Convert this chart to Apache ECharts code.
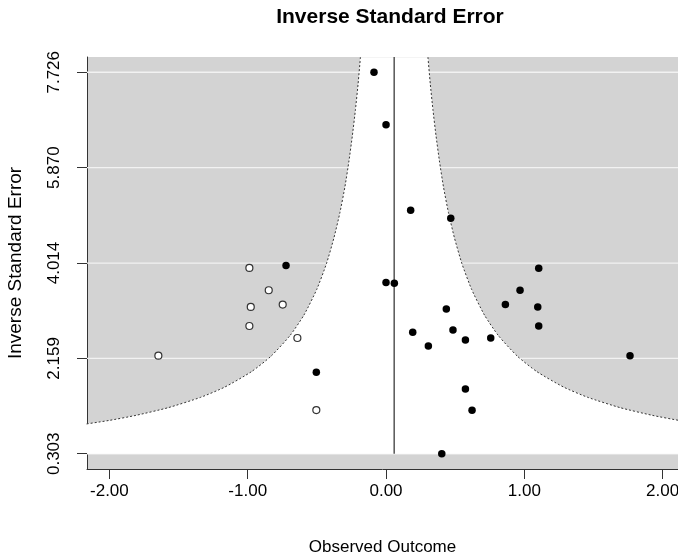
<!DOCTYPE html>
<html>

<head>
  <meta charset="utf-8">
  <title>Inverse Standard Error</title>
  <script src="https://cdn.jsdelivr.net/npm/echarts@6.0.0/dist/echarts.min.js"></script>
  <style type="text/css">
    html,
    body {
      margin: 0;
      background-color: #fff;
    }

    #main {
      width: 678px;
      height: 556px;
    }
  </style>
</head>

<body>
  <div id="main"></div>

  <script type="text/javascript">
    // axis ticks
    var xTicks = [-2, -1, 0, 1, 2];
    var yTicks = [0.303, 2.159, 4.014, 5.870, 7.726];

    // observed studies (filled dots)
    var obsX = [-0.087, 0.000, 0.178, 0.468, 1.104, 0.000, 0.060, 0.969, 0.863, 1.097, 0.436, 1.104,
      0.193, 0.484, 0.574, 0.757, 0.306, 1.764, 0.574, 0.622, 0.403, -0.723, -0.504];
    var obsY = [7.726, 6.705, 5.043, 4.887, 3.913, 3.634, 3.621, 3.484, 3.206, 3.159, 3.120, 2.789,
      2.666, 2.711, 2.516, 2.555, 2.399, 2.212, 1.562, 1.147, 0.303, 3.966, 1.887];

    // filled-in studies (open dots)
    var fillX = [-0.988, -0.848, -0.978, -0.747, -0.988, -0.641, -1.646, -0.504];
    var fillY = [3.919, 3.484, 3.159, 3.206, 2.789, 2.555, 2.212, 1.152];

    // pooled estimate (vertical line)
    var center = 0.059;

    // funnel edges
    var funnelY = [8.02, 7.5, 7.0, 6.5, 6.0, 5.5, 5.0, 4.5, 4.0, 3.5, 3.0, 2.6, 2.2, 1.9, 1.6, 1.4, 1.2, 1.05, 0.95, 0.85];
    var funnelL = [-0.185, -0.202, -0.221, -0.243, -0.268, -0.297, -0.333, -0.377, -0.431, -0.501, -0.594, -0.695,
      -0.832, -0.973, -1.166, -1.341, -1.574, -1.808, -2.004, -2.247];
    var funnelR = [0.303, 0.320, 0.339, 0.361, 0.386, 0.415, 0.451, 0.495, 0.549, 0.619, 0.712, 0.813,
      0.950, 1.091, 1.284, 1.459, 1.692, 1.926, 2.122, 2.365];

    var xMin = -2.162, xMax = 2.111;
    var yMin = 0.006, yMax = 8.023;
    var font = 'Liberation Sans, Arial, sans-serif';

    function zip(a, b) {
      var out = [];
      for (var i = 0; i < a.length; i++) out.push([a[i], b[i]]);
      return out;
    }

    var leftEdge = zip(funnelL, funnelY);
    var rightEdge = zip(funnelR, funnelY);

    var myChart = echarts.init(document.getElementById('main'), null, { renderer: 'canvas' });

    var option = {
      animation: false,
      backgroundColor: '#fff',
      textStyle: { fontFamily: font },
      title: {
        text: 'Inverse Standard Error',
        left: 385,
        top: 2,
        textAlign: 'center',
        textStyle: { fontFamily: font, fontSize: 21, fontWeight: 'bold', color: '#000' }
      },
      grid: {
        left: 87,
        right: 0,
        top: 57,
        bottom: 87,
        outerBoundsMode: 'none',
        show: true,
        backgroundColor: '#d3d3d3',
        borderWidth: 0
      },
      xAxis: {
        type: 'value',
        min: xMin,
        max: xMax,
        name: 'Observed Outcome',
        nameLocation: 'middle',
        nameGap: 70,
        nameTextStyle: { fontFamily: font, fontSize: 17, color: '#000' },
        axisLine: { show: true, onZero: false, lineStyle: { color: '#333', width: 1 } },
        axisTick: { show: true, length: 10, customValues: xTicks, lineStyle: { color: '#333' } },
        axisLabel: {
          customValues: xTicks,
          margin: 14,
          fontFamily: font,
          fontSize: 17,
          color: '#000',
          formatter: function (v) { return v.toFixed(2); }
        },
        splitLine: { show: false }
      },
      yAxis: {
        type: 'value',
        min: yMin,
        max: yMax,
        name: 'Inverse Standard Error',
        nameLocation: 'middle',
        nameGap: 62,
        nameTextStyle: { fontFamily: font, fontSize: 19, color: '#000' },
        axisLine: { show: true, onZero: false, lineStyle: { color: '#333', width: 1 } },
        axisTick: { show: true, length: 10, customValues: yTicks, lineStyle: { color: '#333' } },
        axisLabel: {
          customValues: yTicks,
          rotate: 90,
          margin: 24,
          fontFamily: font,
          fontSize: 17,
          color: '#000',
          formatter: function (v) { return v.toFixed(3); }
        },
        splitLine: { show: false }
      },
      series: [
        {
          // white reference lines on the grey background
          type: 'custom',
          z: 1,
          silent: true,
          clip: true,
          data: yTicks,
          renderItem: function (params, api) {
            var v = api.value(0);
            var p1 = api.coord([xMin, v]);
            var p2 = api.coord([xMax, v]);
            return {
              type: 'line',
              shape: { x1: p1[0], y1: p1[1], x2: p2[0], y2: p2[1] },
              style: { stroke: '#f2f2f2', lineWidth: 1.3 }
            };
          }
        },
        {
          // white funnel region
          type: 'custom',
          z: 2,
          silent: true,
          clip: true,
          data: [0],
          renderItem: function (params, api) {
            var pts = [];
            pts.push(api.coord([xMin - 0.3, yTicks[0]]));
            for (var i = leftEdge.length - 1; i >= 0; i--) pts.push(api.coord(leftEdge[i]));
            for (var j = 0; j < rightEdge.length; j++) pts.push(api.coord(rightEdge[j]));
            pts.push(api.coord([xMax + 0.3, yTicks[0]]));
            return {
              type: 'polygon',
              shape: { points: pts },
              style: { fill: '#fff' }
            };
          }
        },
        {
          type: 'line',
          z: 3,
          silent: true,
          data: leftEdge,
          showSymbol: false,
          smooth: 0.2,
          lineStyle: { color: '#333', width: 1, type: [2, 2] }
        },
        {
          type: 'line',
          z: 3,
          silent: true,
          data: rightEdge,
          showSymbol: false,
          smooth: 0.2,
          lineStyle: { color: '#333', width: 1, type: [2, 2] }
        },
        {
          // pooled estimate
          type: 'line',
          z: 3,
          silent: true,
          data: [[center, yTicks[0]], [center, yMax]],
          showSymbol: false,
          lineStyle: { color: '#555', width: 1.5 }
        },
        {
          type: 'scatter',
          z: 4,
          data: zip(obsX, obsY),
          symbolSize: 7.5,
          itemStyle: { color: '#000', opacity: 1 }
        },
        {
          type: 'scatter',
          z: 4,
          data: zip(fillX, fillY),
          symbolSize: 7,
          itemStyle: { color: '#fff', borderColor: '#333', borderWidth: 1.2, opacity: 1 }
        }
      ]
    };

    myChart.setOption(option);
  </script>
</body>

</html>
